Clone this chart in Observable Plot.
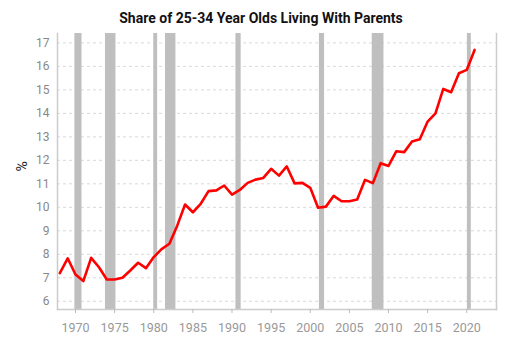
<!DOCTYPE html>
<html>
<head>
<meta charset="utf-8">
<script src="https://cdn.jsdelivr.net/npm/d3@7"></script>
<script src="https://cdn.jsdelivr.net/npm/@observablehq/plot@0.6"></script>
<style>
  body { margin: 0; background: #fff; font-family: Roboto, "Noto Sans", sans-serif; }
  #title { width: 509px; height: 30px; box-sizing: border-box; padding-top: 3px; padding-left: 13px;
           line-height: 30px; text-align: center; font-weight: bold; font-size: 14px; color: #111; }
</style>
</head>
<body>
<div id="title">Share of 25-34 Year Olds Living With Parents</div>
<div id="chart"></div>
<script>
const years = d3.range(1968, 2022);
const shares = [
  7.2, 7.83, 7.14, 6.86, 7.85, 7.45, 6.93, 6.93, 7.0, 7.31,
  7.64, 7.41, 7.88, 8.22, 8.45, 9.22, 10.12, 9.79, 10.15, 10.69,
  10.72, 10.93, 10.54, 10.74, 11.04, 11.18, 11.25, 11.64, 11.35, 11.74,
  11.02, 11.04, 10.83, 9.98, 10.03, 10.49, 10.26, 10.26, 10.33, 11.17,
  11.03, 11.88, 11.76, 12.39, 12.35, 12.8, 12.9, 13.65, 14.0, 15.04,
  14.9, 15.71, 15.85, 16.7
];
const recStart = [1969.92, 1973.83, 1980.0, 1981.5, 1990.5, 2001.17, 2007.92, 2020.08];
const recEnd   = [1970.83, 1975.17, 1980.5, 1982.83, 1991.17, 2001.83, 2009.42, 2020.58];
const xTicks = d3.range(1970, 2021, 5);
const yTicks = d3.range(6, 18);
const xDomain = [1967.7, 2023.8];
const yDomain = [5.65, 17.4];

const series = years.map((y, i) => ({year: y, value: shares[i]}));
const recessions = recStart.map((s, i) => ({start: s, end: recEnd[i]}));

const chart = Plot.plot({
  width: 509,
  height: 314,
  marginTop: 3,
  marginBottom: 35,
  marginLeft: 57,
  marginRight: 13,
  style: {fontFamily: "Roboto, sans-serif", background: "#fff"},
  x: {domain: xDomain},
  y: {domain: yDomain},
  marks: [
    Plot.gridY(yTicks, {stroke: "#d9d9d9", strokeOpacity: 1, strokeDasharray: "3,3", strokeWidth: 1}),
    Plot.rect(recessions, {x1: "start", x2: "end", fill: "#bfbfbf"}),
    Plot.frame({anchor: "left", stroke: "#cccccc", strokeWidth: 1.5}),
    Plot.frame({anchor: "right", stroke: "#cccccc", strokeWidth: 1.5}),
    Plot.frame({anchor: "bottom", stroke: "#cccccc", strokeWidth: 1.5}),
    Plot.axisX({ticks: xTicks, tickFormat: d => String(d), tickSize: 4, tickPadding: 10,
                label: null, stroke: "#bbbbbb", color: "#999", fontSize: 12.5}),
    Plot.axisY({ticks: yTicks, tickFormat: d => String(d), tickSize: 0, tickPadding: 8,
                label: null, color: "#888", fontSize: 12}),
    Plot.text(["%"], {frameAnchor: "left", dx: -35, rotate: -90, fontSize: 14, fill: "#222"}),
    Plot.line(series, {x: "year", y: "value", stroke: "red", strokeWidth: 2.6})
  ]
});
document.getElementById("chart").appendChild(chart);
</script>
</body>
</html>
